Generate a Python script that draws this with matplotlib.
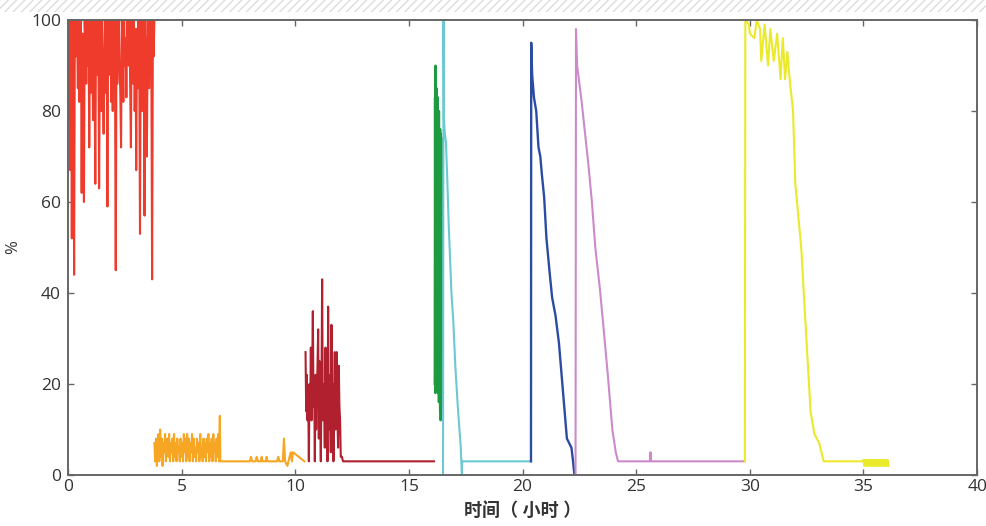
import matplotlib
matplotlib.use("Agg")
import matplotlib.pyplot as plt
import numpy as np
from matplotlib.patches import Rectangle

plt.rcParams['font.family'] = ['Open Sans', 'Noto Sans CJK SC', 'DejaVu Sans']

# red: 0 - 3.8 h, dense noisy samples
red_pct = [78, 100, 88, 67, 100, 52, 98, 100, 44, 100, 92, 100, 98, 85, 100, 82,
           96, 100, 62, 97, 88, 60, 100, 94, 86, 100, 90, 100, 72, 100, 84, 100,
           95, 78, 100, 90, 64, 100, 96, 88, 100, 63, 92, 100, 80, 100, 86, 75,
           92, 100, 84, 100, 59, 100, 90, 88, 100, 82, 100, 80, 94, 100, 88, 45,
           100, 86, 97, 100, 90, 84, 72, 100, 95, 82, 100, 90, 96, 83, 100, 92,
           90, 100, 86, 72, 100, 95, 86, 100, 80, 98, 67, 98, 85, 100, 92, 53,
           100, 84, 80, 100, 96, 57, 100, 88, 70, 92, 100, 85, 96, 100, 90, 43,
           100, 92, 100]
red_span = (0.0, 3.8)

# orange: noisy 3.8 - 6.7 h, then mostly flat
orange_pct = [7, 3, 8, 2, 6, 9, 3, 10, 4, 8, 2, 7, 5, 9, 3, 6, 8, 4, 9, 3, 7, 5,
              8, 3, 9, 4, 7, 3, 8, 5, 6, 3, 8, 4, 7, 3, 9, 5, 8, 3, 9, 4, 8, 3,
              7, 5, 9, 3, 8, 4, 6, 3, 8, 5, 7, 3, 9, 4, 6, 3, 8, 4, 7, 3, 8, 5,
              9, 3, 7, 4, 8, 3, 9, 5, 7, 3, 8, 4, 9, 3, 13]
orange_span = (3.8, 6.68)
orange_tail_t = [6.70, 8.0, 8.05, 8.1, 8.25, 8.3, 8.35, 8.48, 8.52, 8.56, 8.7, 8.74,
                 8.78, 9.2, 9.25, 9.3, 9.45, 9.5, 9.55, 9.65, 9.7, 9.8, 9.85, 9.9, 10.4]
orange_tail_pct = [3, 3, 4, 3, 3, 4, 3, 3, 4, 3, 3, 4, 3, 3, 4, 3, 3, 8, 3, 2, 3,
                   5, 3, 5, 3]

# dark red: noisy 10.45 - 12.0 h, then flat
darkred_pct = [27, 14, 22, 12, 18, 3, 20, 14, 28, 12, 22, 36, 15, 20, 3, 22, 10,
               18, 24, 32, 8, 25, 14, 3, 20, 43, 12, 20, 16, 6, 28, 15, 22, 3, 37,
               10, 22, 14, 5, 33, 14, 20, 3, 18, 27, 10, 22, 27, 12, 6, 24, 15, 12, 4]
darkred_span = (10.45, 12.0)
darkred_tail_t = [12.05, 12.1, 16.1]
darkred_tail_pct = [4, 3, 3]

# green: 16.13 - 16.47 h
green_pct = [20, 83, 18, 90, 22, 82, 19, 85, 20, 80, 18, 83, 21, 78, 16, 80, 19,
             75, 14, 76, 12, 75, 18, 70, 20, 74, 15]
green_span = (16.13, 16.47)

cyan_t = [16.50, 16.52, 16.54, 16.58, 16.63, 16.68, 16.75, 16.87, 16.95, 17.04,
          17.15, 17.28, 17.33, 17.34, 20.37]
cyan_pct = [0, 100, 78, 75, 73, 66, 55, 40, 34, 24, 15, 6, 0, 3, 3]

blue_t = [20.37, 20.38, 20.42, 20.5, 20.6, 20.7, 20.78, 20.85, 20.95, 21.05, 21.2,
          21.3, 21.45, 21.6, 21.8, 21.95, 22.05, 22.15, 22.22, 22.28]
blue_pct = [3, 95, 88, 83, 80, 72, 70, 66, 61, 52, 44, 39, 35, 29, 17, 8, 7, 6, 3, 0]

pink_t = [22.33, 22.35, 22.4, 22.5, 22.6, 22.75, 22.9, 23.05, 23.2, 23.4, 23.55,
          23.75, 23.95, 24.1, 24.2, 25.6, 25.63, 25.66, 29.77]
pink_pct = [0, 98, 90, 86, 82, 75, 68, 60, 50, 41, 33, 22, 10, 5, 3, 3, 5, 3, 3]

yellow_t = [29.78, 29.8, 29.96, 30.0, 30.2, 30.3, 30.45, 30.5, 30.65, 30.8, 30.9,
            31.05, 31.2, 31.35, 31.45, 31.55, 31.65, 31.75, 31.9, 32.0, 32.26,
            32.43, 32.67, 32.84, 32.95, 33.05, 33.25, 35.0]
yellow_pct = [3, 100, 99, 97, 96, 100, 98, 91, 99, 90, 98, 91, 97, 87, 96, 87, 93,
              87, 80, 64, 50, 35, 14, 9, 8, 7, 3, 3]
yellow_band_pct = [3.3, 2, 3.3, 2, 3.3, 2, 3.3, 2, 3.3, 2, 3.3, 2, 3.3, 2, 3.3, 2,
                   3.3, 2, 3.3, 2, 3.3, 2, 3.3, 2, 3.3, 2, 3.3, 2, 3.3, 2]
yellow_band_span = (35.0, 36.1)

xticks = [0, 5, 10, 15, 20, 25, 30, 35, 40]
yticks = [0, 20, 40, 60, 80, 100]


def dense(span, vals):
    return np.linspace(span[0], span[1], len(vals)), vals


fig = plt.figure(figsize=(9.86, 5.26), dpi=100)
ax = fig.add_axes([0.069, 0.097, 0.922, 0.865])

# hatched strip at the very top of the screenshot
fig.patches.append(Rectangle((0, 0.977), 1, 0.023, transform=fig.transFigure,
                             facecolor='white', edgecolor='#dddddd', hatch='////',
                             linewidth=0))

lw = 1.5
t, v = dense(red_span, red_pct)
ax.plot(t, v, color='#ee3b2b', lw=lw)

t, v = dense(orange_span, orange_pct)
ax.plot(np.concatenate([t, orange_tail_t]), np.concatenate([v, orange_tail_pct]),
        color='#f6a623', lw=lw)

t, v = dense(darkred_span, darkred_pct)
ax.plot(np.concatenate([t, darkred_tail_t]), np.concatenate([v, darkred_tail_pct]),
        color='#b0202e', lw=lw)

t, v = dense(green_span, green_pct)
ax.plot(t, v, color='#1e9a40', lw=lw)

ax.plot(cyan_t, cyan_pct, color='#6cc8d2', lw=lw)
ax.plot(blue_t, blue_pct, color='#2c4ca2', lw=1.7)
ax.plot(pink_t, pink_pct, color='#cc8acb', lw=lw)
ax.plot(yellow_t, yellow_pct, color='#eaea2a', lw=lw)
t, v = dense(yellow_band_span, yellow_band_pct)
ax.plot(t, v, color='#eaea2a', lw=lw)

ax.set_xlim(0, 40)
ax.set_ylim(0, 100)
ax.set_xticks(xticks)
ax.set_yticks(yticks)
ax.tick_params(direction='in', top=True, right=True, length=4, width=1,
               color='#666666', labelcolor='#333333', labelsize=12.5)
ax.tick_params(axis='x', pad=3)
ax.tick_params(axis='y', pad=5)
for s in ax.spines.values():
    s.set_color('#666666')
    s.set_linewidth(1.4)

ax.set_xlabel('时间（ 小时 ）', fontsize=13, fontweight='bold', color='#333333', labelpad=5)
ax.set_ylabel('%', fontsize=12, color='#333333')
ax.yaxis.set_label_coords(-0.052, 0.5)

fig.savefig('out.png', dpi=100)
